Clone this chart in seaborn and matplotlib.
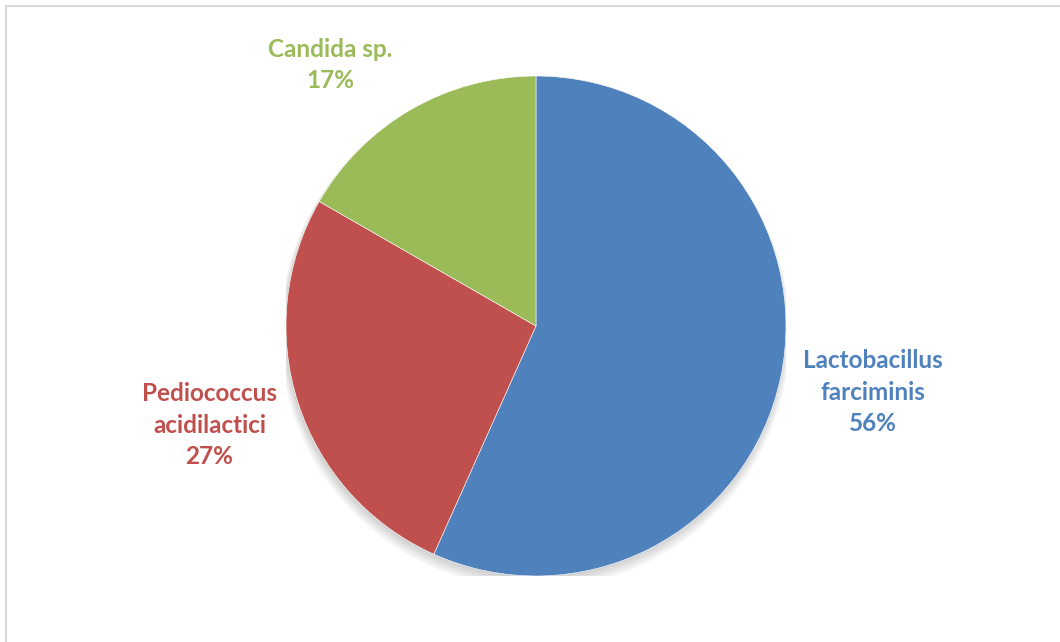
import matplotlib
matplotlib.use("Agg")
import matplotlib.pyplot as plt
import seaborn as sns
from matplotlib.patches import Circle, Rectangle

sns.set_theme(style="white")
plt.rcParams['font.family'] = ['Lato', 'DejaVu Sans']

categories = ["Lactobacillus\nfarciminis", "Pediococcus\nacidilactici", "Candida sp."]
shares = [56.7, 26.6, 16.7]          # wedge sizes as drawn
pct_labels = [56, 27, 17]            # percentages printed on the chart
colors = ["#4F81BD", "#C0504D", "#9BBB59"]
label_pos = [(1.348, -0.264), (-1.306, -0.396), (-0.822, 1.044)]

fig = plt.figure(figsize=(10.6, 6.42), dpi=100)
fig.patch.set_facecolor("white")
# chart border
fig.add_artist(Rectangle((6/1060, -0.01), 1.2, 1 - 6.5/642 + 0.01, transform=fig.transFigure,
                         fill=False, edgecolor="#D9D9D9", linewidth=1.5))

ax = fig.add_axes([0.2698, 0.1028, 0.4717, 0.7788])
# soft shadow
for i in range(5):
    ax.add_patch(Circle((-0.004, -0.01 - 0.005 * i), 1.0 + 0.005 * i, color="black", alpha=0.035,
                        linewidth=0, zorder=0))
wedges, _ = ax.pie(shares, colors=colors, startangle=90, counterclock=False,
                   wedgeprops=dict(edgecolor="white", linewidth=0.4))
for w in wedges:
    w.set_zorder(2)
for cat, val, col, (x, y) in zip(categories, pct_labels, colors, label_pos):
    ax.text(x, y, f"{cat}\n{val}%", ha="center", va="center", color=col,
            fontsize=17.5, fontweight="bold", linespacing=1.45)
ax.set_xlim(-1, 1)
ax.set_ylim(-1, 1)
ax.set_aspect("equal")
ax.axis("off")

fig.savefig("out.png", dpi=100, facecolor="white")
